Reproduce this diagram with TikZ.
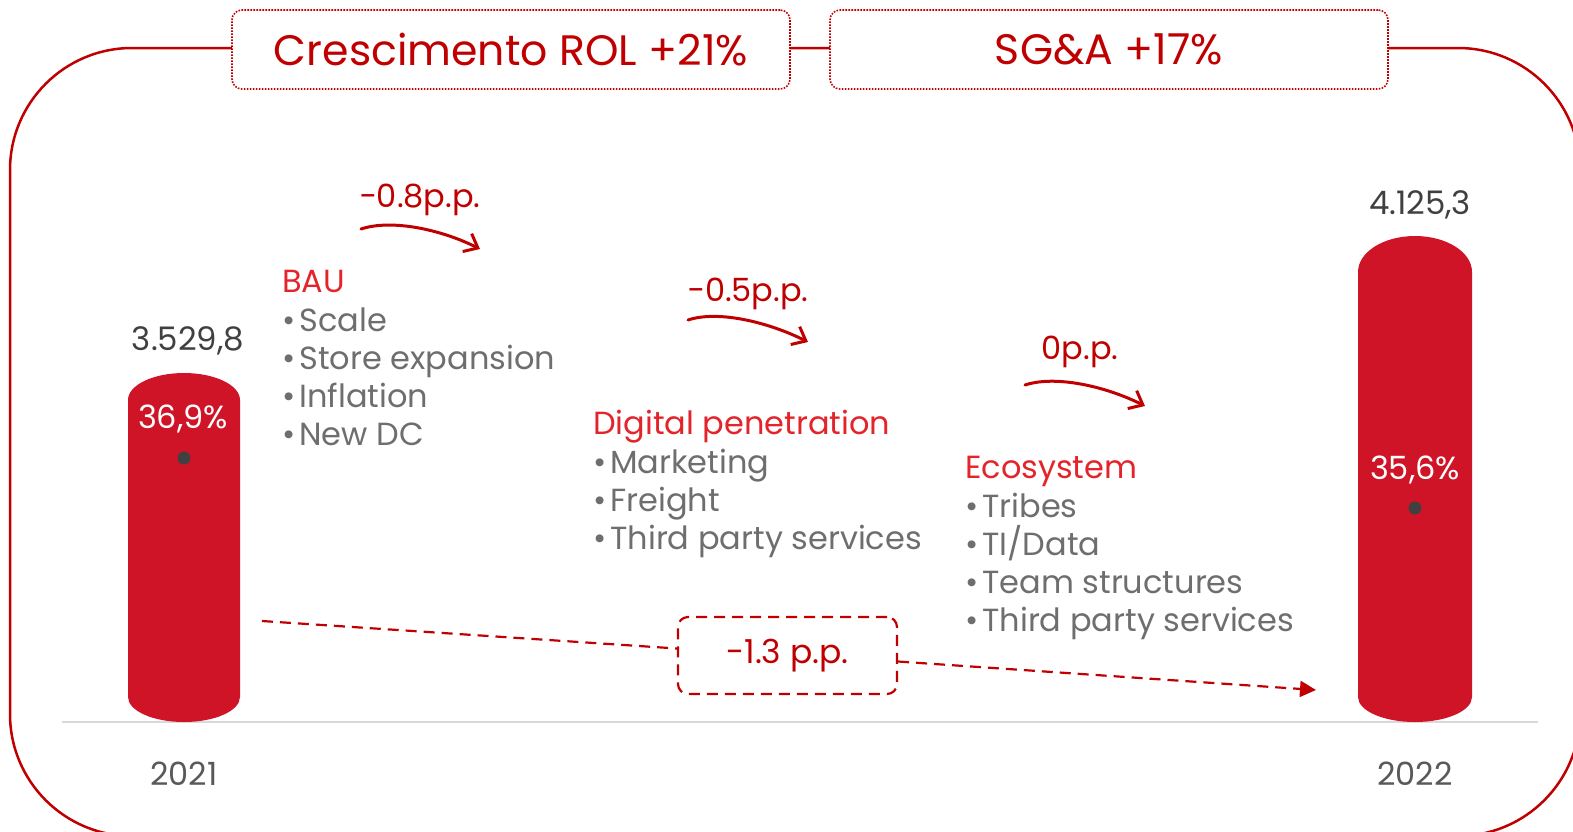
\documentclass[tikz,border=0pt]{standalone}
\usepackage{fontspec}
\setmainfont{Poppins}
\usetikzlibrary{arrows.meta,calc}
\definecolor{hdred}{HTML}{C00000}
\definecolor{barred}{HTML}{D01428}
\definecolor{catred}{HTML}{E3242B}
\definecolor{txtgray}{HTML}{6E6E6E}
\definecolor{valgray}{HTML}{404040}
\definecolor{yrgray}{HTML}{595959}
\definecolor{axisgray}{HTML}{D9D9D9}
\definecolor{dotgray}{HTML}{404040}
\begin{document}
\begin{tikzpicture}[x=1pt,y=-1pt,
  hdbox/.style={draw=hdred, line width=1.6pt, dash pattern=on 1.6pt off 1.4pt, rounded corners=10pt, fill=white, minimum width=558pt, minimum height=79pt, font=\fontsize{42.6}{50}\selectfont, text=hdred, inner sep=0pt},
  bul/.style={anchor=base west, font=\fontsize{32}{38}\selectfont, text=txtgray, inner sep=0pt},
  cat/.style={anchor=base west, font=\fontsize{32}{38}\selectfont, text=catred, inner sep=0pt},
  val/.style={anchor=base, font=\fontsize{32.4}{38}\selectfont, text=valgray, inner sep=0pt},
  pct/.style={anchor=base, font=\fontsize{32}{38}\selectfont, text=white, inner sep=0pt},
  yr/.style={anchor=base, font=\fontsize{32}{38}\selectfont, text=yrgray, inner sep=0pt},
  pp/.style={anchor=base, font=\fontsize{32}{38}\selectfont, text=hdred, inner sep=0pt},
  brush/.style={draw=hdred, line width=3pt, line cap=round, -{Straight Barb[length=12pt,width=20pt,line width=3pt]}},
  dashc/.style={draw=hdred, line width=2.2pt, dash pattern=on 11pt off 7pt},
  bar/.style={fill=barred},
  dotm/.style={fill=dotgray},
]
\useasboundingbox (0,0) rectangle (1573,831);
\clip (0,0) rectangle (1573,831);
% outer frame
\draw[hdred, line width=2.5pt, rounded corners=122pt] (10,48) rectangle (1580,836);
% header boxes
\node[hdbox] (h1) at (511,49.5) {Crescimento ROL +21\%};
\node[hdbox] (h2) at (1109,49.5) {SG\&A +17\%};
% axis
\draw[axisgray, line width=2pt] (62,722) -- (1538,722);
% bars
\fill[bar] (128,697) -- (128,400) arc[start angle=180,end angle=360,x radius=56,y radius=27] -- (240,697) arc[start angle=0,end angle=180,x radius=56,y radius=25] -- cycle;
\fill[bar] (1358,697) -- (1358,272) arc[start angle=180,end angle=360,x radius=57,y radius=36] -- (1472,697) arc[start angle=0,end angle=180,x radius=57,y radius=25] -- cycle;
\fill[dotm] (184,458) circle (6.5);
\fill[dotm] (1415,508) circle (6.5);
% values
\node[val] (v1) at (188,350) {3.529,8};
\node[val] (v2) at (1420,214) {4.125,3};
\node[pct] (p1) at (183,428) {36,9\%};
\node[pct] (p2) at (1415,479) {35,6\%};
\node[yr] (y1) at (184,785) {2021};
\node[yr] (y2) at (1415,785) {2022};
% BAU
\node[cat] (c1) at (282,292) {BAU};
\node[bul] (c1a) at (282,331) {\textbullet\kern4pt Scale};
\node[bul] (c1b) at (282,369) {\textbullet\kern4pt Store expansion};
\node[bul] (c1c) at (282,407) {\textbullet\kern4pt Inflation};
\node[bul] (c1d) at (282,445) {\textbullet\kern4pt New DC};
% Digital
\node[cat] (c2) at (593,434) {Digital penetration};
\node[bul] (c2a) at (593,473) {\textbullet\kern4pt Marketing};
\node[bul] (c2b) at (593,511) {\textbullet\kern4pt Freight};
\node[bul] (c2c) at (593,549) {\textbullet\kern4pt Third party services};
% Ecosystem
\node[cat] (c3) at (965,478) {Ecosystem};
\node[bul] (c3a) at (965,517) {\textbullet\kern4pt Tribes};
\node[bul] (c3b) at (965,555) {\textbullet\kern4pt TI/Data};
\node[bul] (c3c) at (965,593) {\textbullet\kern4pt Team structures};
\node[bul] (c3d) at (965,631) {\textbullet\kern4pt Third party services};
% p.p. labels and arrows
\node[pp] (l1) at (420,207) {−0.8p.p.};
\node[pp] (l2) at (748,301) {−0.5p.p.};
\node[pp] (l3) at (1080,359) {0p.p.};
\coordinate (a1s) at (361,229); \coordinate (a1e) at (480,249);
\coordinate (a2s) at (688,320); \coordinate (a2e) at (808,342);
\coordinate (a3s) at (1025,385); \coordinate (a3e) at (1145,406);
\draw[brush] (a1s) .. controls +(30,-10) and +(-40,-20) .. (a1e);
\draw[brush] (a2s) .. controls +(30,-10) and +(-40,-20) .. (a2e);
\draw[brush] (a3s) .. controls +(30,-10) and +(-40,-20) .. (a3e);
% dashed total
\node[draw=hdred, line width=2.2pt, dash pattern=on 11pt off 7pt, rounded corners=10pt, minimum width=219pt, minimum height=77pt, inner sep=0pt, font=\fontsize{33}{38}\selectfont, text=hdred] (tot) at (787.5,655.5) {-1.3 p.p.};
\coordinate (d0) at (262,621);
\coordinate (d1) at (1316,690);
\draw[dashc] (d0) -- ([yshift=7pt]tot.west);
\draw[dashc, -{Triangle[length=16pt,width=16pt]}] ([yshift=-6pt]tot.east) -- (d1);
\end{tikzpicture}
\end{document}
